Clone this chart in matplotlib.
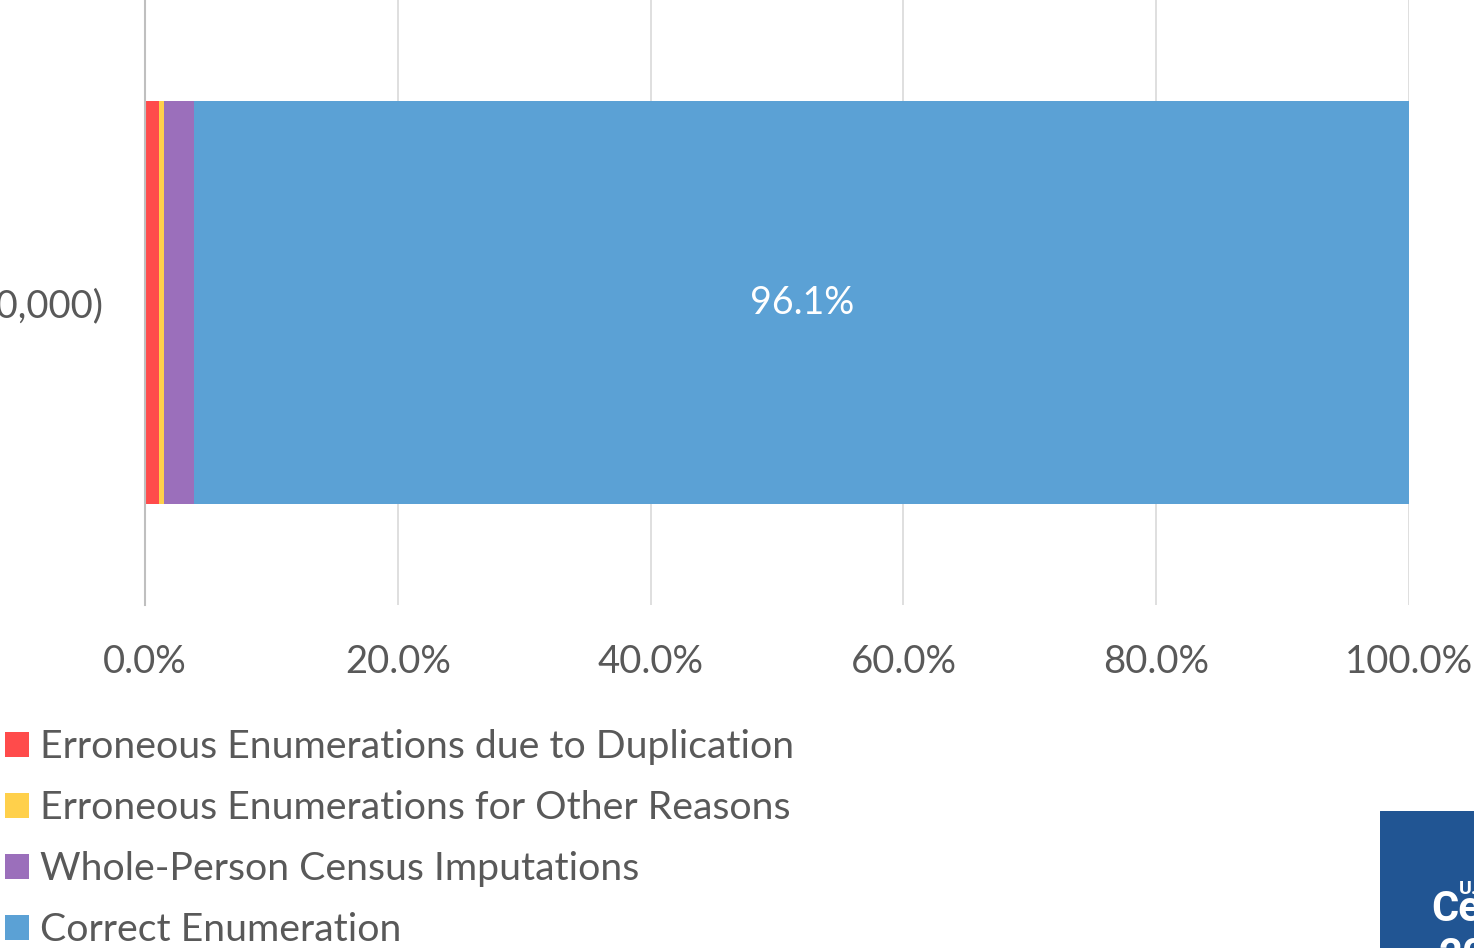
import matplotlib.pyplot as plt
from matplotlib.patches import Patch, Rectangle

plt.rcParams["font.family"] = ["Lato", "DejaVu Sans"]

category = "Census Count (323,200,000)"
components = [
    "Erroneous Enumerations due to Duplication",
    "Erroneous Enumerations for Other Reasons",
    "Whole-Person Census Imputations",
    "Correct Enumeration",
]
shares = [1.1, 0.4, 2.4, 96.1]
colors = ["#ff4b4b", "#ffd04b", "#9b6fbb", "#5ba1d5"]
xticks = [0, 20, 40, 60, 80, 100]

TEXT = "#595959"

fig = plt.figure(figsize=(14.74, 9.48), dpi=100)
ax = fig.add_axes([145 / 1474, 1 - 605 / 948, (1409 - 145) / 1474, 605 / 948])

left = 0
bars = []
for name, val, col in zip(components, shares, colors):
    b = ax.barh([0], [val], left=left, height=1.0, color=col, label=name, zorder=2)
    bars.append(b)
    left += val

ax.bar_label(bars[-1], labels=[f"{shares[-1]:.1f}%"], label_type="center",
             color="white", fontsize=27)

ax.set_xlim(0, 100)
ax.set_ylim(-0.75, 0.75)
ax.set_xticks(xticks)
ax.set_xticklabels([f"{v:.1f}%" for v in xticks])
ax.set_yticks([0])
ax.set_yticklabels([category])
ax.tick_params(axis="x", length=0, pad=28, labelsize=27.5, labelcolor=TEXT)
ax.tick_params(axis="y", length=0, pad=30, labelsize=27.5, labelcolor=TEXT)
ax.grid(axis="x", color="#d9d9d9", linewidth=1.2, zorder=0)
for s in ["top", "right", "bottom"]:
    ax.spines[s].set_visible(False)
ax.spines["left"].set_color("#bfbfbf")
ax.spines["left"].set_linewidth(1.5)
ax.spines["left"].set_zorder(3)

handles = [Patch(facecolor=c, edgecolor="none") for c in colors]
leg = fig.legend(handles, components, loc="upper left",
                 bbox_to_anchor=(5 / 1474, 1 - 729 / 948), frameon=False,
                 fontsize=28.3, handlelength=0.6, handleheight=0.6,
                 handletextpad=0.3, labelspacing=0.64, borderaxespad=0,
                 borderpad=0)
for t in leg.get_texts():
    t.set_color(TEXT)

# corner logo block (cut off by the slide edge)
lax = fig.add_axes([1380 / 1474, 0, 94 / 1474, 137 / 948])
lax.set_xlim(0, 94)
lax.set_ylim(0, 137)
lax.axis("off")
lax.add_patch(Rectangle((0, 0), 94, 137, color="#215593"))
lax.text(51, 27, "Census", color="white", fontsize=30, fontweight="bold",
         family="Roboto", clip_on=True, va="baseline")
lax.text(79, 54, "U.S.", color="white", fontsize=14, fontweight="bold",
         family="Roboto", clip_on=True, va="baseline")
lax.text(58, -20, "2020", color="white", fontsize=30, fontweight="bold",
         family="Roboto", clip_on=True, va="baseline")

fig.savefig("out.png", dpi=100)
